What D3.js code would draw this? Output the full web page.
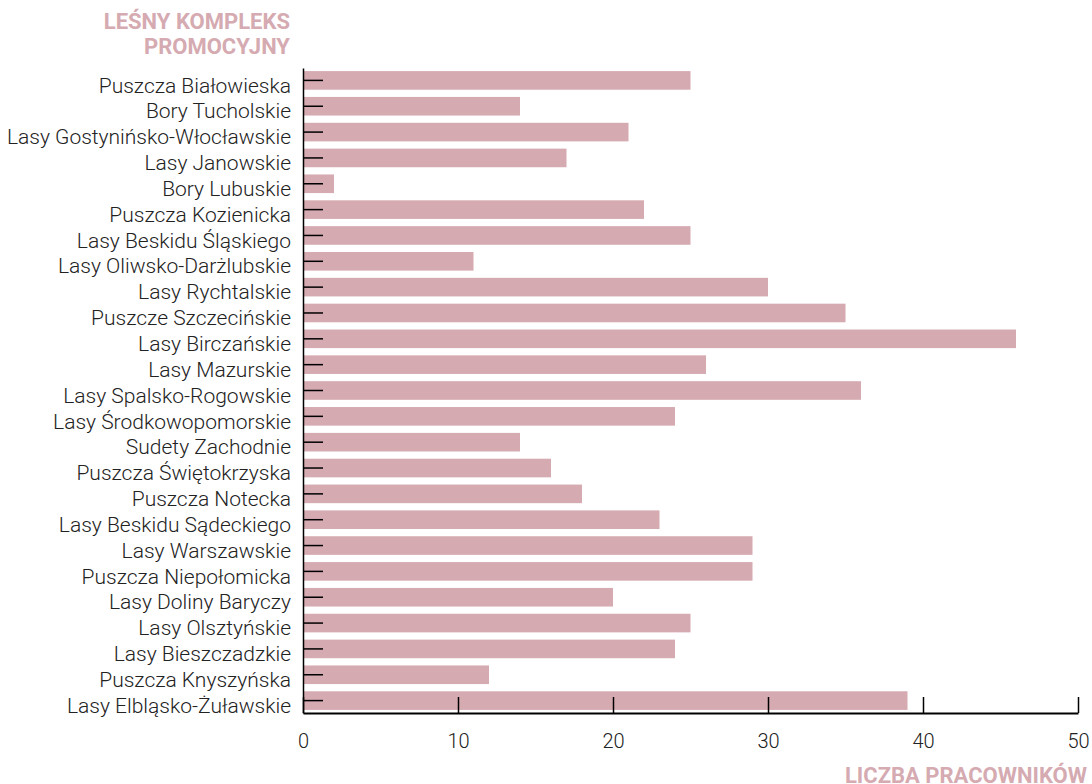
<!DOCTYPE html>
<html><head><meta charset="utf-8">
<script src="https://cdn.jsdelivr.net/npm/d3@7"></script>
<style>
body{margin:0;background:#fff;}
text{font-family:Roboto,sans-serif;}
</style></head>
<body><svg id="c" width="1092" height="784"></svg>
<script>
const categories = ["Puszcza Białowieska","Bory Tucholskie","Lasy Gostynińsko-Włocławskie","Lasy Janowskie","Bory Lubuskie","Puszcza Kozienicka","Lasy Beskidu Śląskiego","Lasy Oliwsko-Darżlubskie","Lasy Rychtalskie","Puszcze Szczecińskie","Lasy Birczańskie","Lasy Mazurskie","Lasy Spalsko-Rogowskie","Lasy Środkowopomorskie","Sudety Zachodnie","Puszcza Świętokrzyska","Puszcza Notecka","Lasy Beskidu Sądeckiego","Lasy Warszawskie","Puszcza Niepołomicka","Lasy Doliny Baryczy","Lasy Olsztyńskie","Lasy Bieszczadzkie","Puszcza Knyszyńska","Lasy Elbląsko-Żuławskie"];
const values = [25,14,21,17,2,22,25,11,30,35,46,26,36,24,14,16,18,23,29,29,20,25,24,12,39];
const xTicks = [0,10,20,30,40,50];
const yTitle = ["LEŚNY KOMPLEKS","PROMOCYJNY"];
const xTitle = "LICZBA PRACOWNIKÓW";

(function(){
const svg = d3.select("#c");
const mLeft = 303, mRight = 1078, mTop = 68, mBottom = 713;
const barColor = "#d5aab1";
const x = d3.scaleLinear().domain([0,50]).range([mLeft,mRight]);
const y = d3.scaleBand().domain(categories).range([mTop,mBottom]).paddingInner(0.28).paddingOuter(0.12);

svg.append("g").selectAll("rect").data(values).join("rect")
  .attr("x", x(0)).attr("y",(d,i)=>y(categories[i]))
  .attr("width", d=>x(d)-x(0)).attr("height", y.bandwidth())
  .attr("fill", barColor);

const xa = svg.append("g").attr("transform",`translate(0,${mBottom})`)
  .call(d3.axisBottom(x).tickValues(xTicks).tickSize(-16).tickSizeOuter(0).tickPadding(21));
xa.selectAll("path").attr("stroke","#000").attr("stroke-width",2);
xa.selectAll("line").attr("stroke","#000").attr("stroke-width",1.5);
xa.selectAll("text").attr("font-size","20px").attr("font-weight",300).attr("fill","#222").attr("font-family","Roboto");

const ya = svg.append("g").attr("transform",`translate(${mLeft},0)`)
  .call(d3.axisLeft(y).tickSize(-20).tickSizeOuter(0).tickPadding(12));
ya.selectAll("path").attr("stroke","#000").attr("stroke-width",1.5);
ya.selectAll("line").attr("stroke","#000").attr("stroke-width",1.5);
ya.selectAll("text").attr("font-size","21px").attr("font-weight",300).attr("fill","#222")
  .attr("font-family","Roboto").attr("dy","0.58em");

svg.append("text").attr("text-anchor","end")
  .attr("font-size","22px").attr("font-weight",700).attr("fill",barColor)
  .selectAll("tspan").data(yTitle).join("tspan").attr("x",290).attr("y",(d,i)=>28.5+i*25).text(d=>d);
svg.append("text").attr("x",1087).attr("y",782.5).attr("text-anchor","end")
  .attr("font-size","22px").attr("font-weight",700).attr("fill",barColor).text(xTitle);
})();
</script></body></html>
